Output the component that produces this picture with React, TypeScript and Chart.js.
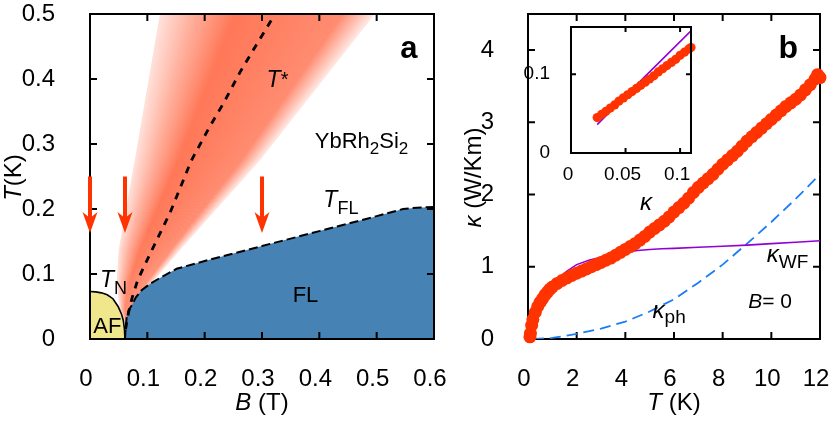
import React, { useEffect, useRef } from 'react';
import { Chart, registerables } from 'chart.js';
Chart.register(...registerables);

const SANS = '"Liberation Sans", Arial, Helvetica, sans-serif';
const font = (size: number, style = 'normal', weight = 'normal') => `${style} ${weight} ${size}px ${SANS}`;

// ---------------- Panel a : phase diagram ----------------
const bTicks = [0, 0.1, 0.2, 0.3, 0.4, 0.5, 0.6];
const bTickLabels = ['0', '0.1', '0.2', '0.3', '0.4', '0.5', '0.6'];
const tTicksA = [0, 0.1, 0.2, 0.3, 0.4, 0.5];
const tTickLabelsA = ['0', '0.1', '0.2', '0.3', '0.4', '0.5'];

// AF dome (T_N line)
const afB = [0, 0.01, 0.02, 0.03, 0.04, 0.049, 0.055, 0.058, 0.06, 0.061];
const afT = [0.073, 0.0725, 0.071, 0.068, 0.062, 0.05, 0.038, 0.029, 0.016, 0];
// FL boundary (T_FL line)
const flB = [0.061, 0.062, 0.064, 0.068, 0.073, 0.08, 0.09, 0.105, 0.122, 0.151, 0.2, 0.3, 0.4, 0.5, 0.546, 0.57, 0.6];
const flT = [0, 0.015, 0.034, 0.045, 0.052, 0.064, 0.075, 0.085, 0.094, 0.108, 0.12, 0.143, 0.166, 0.189, 0.2, 0.202, 0.203];
// T* line
const tStarB = [0.062, 0.067, 0.074, 0.083, 0.095, 0.113, 0.14, 0.177, 0.209, 0.233, 0.262, 0.285, 0.318];
const tStarT = [0.015, 0.04, 0.065, 0.09, 0.113, 0.146, 0.195, 0.275, 0.327, 0.363, 0.411, 0.445, 0.493];
// T* crossover width (fan edges)
const fanT = [0.02, 0.045, 0.086, 0.137, 0.275, 0.5];
const fanLeftB = [0.063, 0.052, 0.0465, 0.05, 0.078, 0.122];
const fanRightB = [0.066, 0.078, 0.108, 0.157, 0.2965, 0.497];
const fanProfileU = [0, 0.15, 0.35, 0.85, 1];
const fanProfileA = [0.22, 0.58, 1, 0.85, 0.15];
// measurement arrows
const arrowB = [0, 0.061, 0.3];
const arrowFromT = 0.25;
const arrowToT = 0.163;

// ---------------- Panel b : thermal conductivity ----------------
const kTicksX = [0, 2, 4, 6, 8, 10, 12];
const kTickLabelsX = ['0', '2', '4', '6', '8', '10', '12'];
const kTicksY = [0, 1, 2, 3, 4];
const kTickLabelsY = ['0', '1', '2', '3', '4'];

const kappaT = [0.08, 0.1, 0.15, 0.2, 0.3, 0.4, 0.5, 0.6, 0.7, 0.8, 0.9, 1.0,
  1.2, 1.4, 1.6, 1.8, 2.0, 2.2, 2.4, 2.6, 2.8, 3.0,
  3.2, 3.4, 3.6, 3.8, 4.0, 4.2, 4.4, 4.6, 4.8, 5.0,
  5.2, 5.4, 5.6, 5.8, 6.0, 6.2, 6.4, 6.6, 6.8, 7.0,
  7.2, 7.4, 7.6, 7.8, 8.0, 8.2, 8.4, 8.6, 8.8, 9.0,
  9.2, 9.4, 9.6, 9.8, 10.0, 10.2, 10.4, 10.6, 10.8, 11.0,
  11.2, 11.4, 11.6, 11.8, 11.9, 12.0];
const kappa = [0.03, 0.08, 0.19, 0.27, 0.37, 0.45, 0.51, 0.56, 0.61, 0.65, 0.69, 0.72,
  0.77, 0.81, 0.845, 0.88, 0.91, 0.94, 0.97, 1.0, 1.03, 1.06,
  1.09, 1.12, 1.16, 1.2, 1.24, 1.28, 1.32, 1.37, 1.42, 1.48,
  1.53, 1.58, 1.63, 1.69, 1.76, 1.82, 1.88, 1.95, 2.03, 2.1,
  2.16, 2.22, 2.28, 2.35, 2.42, 2.48, 2.54, 2.6, 2.67, 2.74,
  2.8, 2.86, 2.92, 2.98, 3.04, 3.1, 3.16, 3.22, 3.27, 3.32,
  3.38, 3.45, 3.52, 3.6, 3.66, 3.62];

const wfT = [0.1, 0.3, 0.5, 0.7, 1.0, 1.3, 1.6, 2.0, 2.5, 3.0, 3.5, 4.0, 4.5, 5.0, 5.5, 6.0, 7.0, 8.0, 9.0, 10.0, 11.0, 12.0];
const wf = [0.06, 0.37, 0.52, 0.63, 0.76, 0.85, 0.94, 1.03, 1.09, 1.13, 1.17, 1.2, 1.225, 1.24, 1.25, 1.255, 1.27, 1.285, 1.3, 1.32, 1.34, 1.36];

const phT = [0.2, 1, 2, 3, 4, 5, 6, 7, 8, 9, 10, 11, 12];
const ph = [0, 0.015, 0.07, 0.145, 0.24, 0.38, 0.55, 0.78, 1.03, 1.32, 1.62, 1.94, 2.28];

// inset
const insetTicksX = [0, 0.05, 0.1];
const insetTickLabelsX = ['0', '0.05', '0.1'];
const insetTicksY = [0, 0.1];
const insetTickLabelsY = ['0', '0.1'];
const insetT = [0.024, 0.028, 0.032, 0.036, 0.04, 0.044, 0.048, 0.052, 0.056, 0.06, 0.064, 0.068,
  0.072, 0.076, 0.08, 0.084, 0.088, 0.092, 0.096, 0.1, 0.104, 0.108, 0.11];
const insetKappa = [0.045, 0.049, 0.053, 0.057, 0.061, 0.066, 0.07, 0.074, 0.078, 0.082, 0.086, 0.09,
  0.094, 0.098, 0.103, 0.107, 0.111, 0.115, 0.119, 0.124, 0.128, 0.132, 0.134];
const insetWfT = [0.024, 0.067, 0.11];
const insetWf = [0.036, 0.096, 0.155];

// ---------------- helpers ----------------
type Run = { t: string; size: number; style?: string; weight?: string; dy?: number };
type Label = { x: number; y: number; runs: Run[] };

const pts = (xs: number[], ys: number[]) => xs.map((v, i) => ({ x: v, y: ys[i] }));

function interp(xs: number[], ys: number[], v: number) {
  if (v <= xs[0]) return ys[0];
  for (let i = 1; i < xs.length; i++) {
    if (v <= xs[i]) {
      const f = (v - xs[i - 1]) / (xs[i] - xs[i - 1]);
      return ys[i - 1] + f * (ys[i] - ys[i - 1]);
    }
  }
  return ys[ys.length - 1];
}

function drawRuns(ctx: CanvasRenderingContext2D, runs: Run[], x: number, y: number, align = 'left') {
  const ws = runs.map((r) => {
    ctx.font = font(r.size, r.style, r.weight);
    return ctx.measureText(r.t).width;
  });
  const total = ws.reduce((a, b) => a + b, 0);
  let cx = align === 'center' ? x - total / 2 : align === 'right' ? x - total : x;
  ctx.textAlign = 'left';
  ctx.textBaseline = 'alphabetic';
  ctx.fillStyle = '#000';
  runs.forEach((r, i) => {
    ctx.font = font(r.size, r.style, r.weight);
    ctx.fillText(r.t, cx, y + (r.dy || 0));
    cx += ws[i];
  });
}

function axis(o: { min: number; max: number; ticks: number[]; labels: string[]; size: number; padding: number; fit: number; horizontal: boolean; labelOffset?: number }) {
  return {
    type: 'linear',
    min: o.min,
    max: o.max,
    grid: { display: false },
    border: { display: false },
    afterBuildTicks: (s: any) => {
      s.ticks = o.ticks.map((v) => ({ value: v }));
    },
    ticks: {
      callback: (_v: any, i: number) => o.labels[i],
      font: { family: SANS, size: o.size, lineHeight: 1 },
      color: '#000',
      padding: o.padding,
      labelOffset: o.labelOffset || 0,
      maxRotation: 0,
      minRotation: 0,
      autoSkip: false,
    },
    afterFit: (s: any) => {
      if (o.horizontal) s.height = o.fit;
      else s.width = o.fit;
      s.paddingLeft = 0;
      s.paddingRight = 0;
      s.paddingTop = 0;
      s.paddingBottom = 0;
    },
  };
}

function framePlugin(lw: number, len: number, before: boolean) {
  const draw = (chart: any) => {
    const { ctx, chartArea: ca, scales } = chart;
    const { left, right, top, bottom } = ca;
    ctx.save();
    ctx.strokeStyle = '#000';
    ctx.lineWidth = lw;
    ctx.beginPath();
    scales.x.ticks.forEach((t: any) => {
      const px = scales.x.getPixelForValue(t.value);
      ctx.moveTo(px, bottom);
      ctx.lineTo(px, bottom - len);
      ctx.moveTo(px, top);
      ctx.lineTo(px, top + len);
    });
    scales.y.ticks.forEach((t: any) => {
      const py = scales.y.getPixelForValue(t.value);
      ctx.moveTo(left, py);
      ctx.lineTo(left + len, py);
      ctx.moveTo(right, py);
      ctx.lineTo(right - len, py);
    });
    ctx.stroke();
    ctx.strokeRect(left, top, right - left, bottom - top);
    ctx.restore();
  };
  return before ? { id: 'frame', beforeDatasetsDraw: draw } : { id: 'frame', afterDatasetsDraw: draw };
}

function labelsPlugin(labels: Label[], xTitle: Run[], yTitle: Run[], yTitleOffset: number) {
  return {
    id: 'labels',
    afterDraw(chart: any) {
      const { ctx, chartArea: ca, scales } = chart;
      ctx.save();
      labels.forEach((l) => drawRuns(ctx, l.runs, scales.x.getPixelForValue(l.x), scales.y.getPixelForValue(l.y)));
      drawRuns(ctx, xTitle, (ca.left + ca.right) / 2, ca.bottom + 71, 'center');
      ctx.translate(ca.left - yTitleOffset, (ca.top + ca.bottom) / 2 + 1);
      ctx.rotate(-Math.PI / 2);
      drawRuns(ctx, yTitle, 0, 0, 'center');
      ctx.restore();
    },
  };
}

const fanPlugin = {
  id: 'fan',
  beforeDatasetsDraw(chart: any) {
    const { ctx, chartArea: ca, scales } = chart;
    const { x, y } = scales;
    ctx.save();
    ctx.beginPath();
    ctx.rect(ca.left, ca.top, ca.right - ca.left, ca.bottom - ca.top);
    ctx.clip();
    const N = 90;
    const edge = (u: number) =>
      fanT.map((t, k) => [x.getPixelForValue(fanLeftB[k] + (fanRightB[k] - fanLeftB[k]) * u), y.getPixelForValue(t)]);
    for (let i = 0; i < N; i++) {
      const u0 = i / N;
      const u1 = Math.min(1, (i + 1.7) / N);
      const a = interp(fanProfileU, fanProfileA, (i + 0.5) / N);
      const c0 = edge(u0);
      const c1 = edge(u1);
      ctx.fillStyle = `rgb(255,${Math.round(255 - (255 - 120) * a)},${Math.round(255 - (255 - 88) * a)})`;
      ctx.beginPath();
      c0.forEach(([px, py], k) => (k ? ctx.lineTo(px, py) : ctx.moveTo(px, py)));
      for (let k = c1.length - 1; k >= 0; k--) ctx.lineTo(c1[k][0], c1[k][1]);
      ctx.closePath();
      ctx.fill();
    }
    ctx.restore();
  },
};

const arrowPlugin = {
  id: 'arrows',
  afterDatasetsDraw(chart: any) {
    const { ctx, scales } = chart;
    ctx.save();
    ctx.fillStyle = '#ff3300';
    ctx.strokeStyle = '#ff3300';
    ctx.lineWidth = 4;
    arrowB.forEach((b) => {
      const px = scales.x.getPixelForValue(b);
      const y0 = scales.y.getPixelForValue(arrowFromT);
      const y1 = scales.y.getPixelForValue(arrowToT);
      ctx.beginPath();
      ctx.moveTo(px, y0);
      ctx.lineTo(px, y1 - 12);
      ctx.stroke();
      ctx.beginPath();
      ctx.moveTo(px, y1);
      ctx.lineTo(px - 7.5, y1 - 21);
      ctx.lineTo(px, y1 - 15);
      ctx.lineTo(px + 7.5, y1 - 21);
      ctx.closePath();
      ctx.fill();
    });
    ctx.restore();
  },
};

const labelsA: Label[] = [
  { x: 0.541, y: 0.432, runs: [{ t: 'a', size: 31, weight: 'bold' }] },
  { x: 0.308, y: 0.388, runs: [{ t: 'T', size: 23, style: 'italic' }, { t: '*', size: 20, dy: -1 }] },
  { x: 0.392, y: 0.2934, runs: [{ t: 'YbRh', size: 22 }, { t: '2', size: 17, dy: 6 }, { t: 'Si', size: 22 }, { t: '2', size: 17, dy: 6 }] },
  { x: 0.407, y: 0.2035, runs: [{ t: 'T', size: 23, style: 'italic' }, { t: 'FL', size: 18, dy: 7 }] },
  { x: 0.0174, y: 0.0795, runs: [{ t: 'T', size: 23, style: 'italic' }, { t: 'N', size: 18, dy: 7 }] },
  { x: 0.3535, y: 0.0574, runs: [{ t: 'FL', size: 22 }] },
  { x: 0.0058, y: 0.0088, runs: [{ t: 'AF', size: 22 }] },
];

const labelsB: Label[] = [
  { x: 10.29, y: 3.885, runs: [{ t: 'b', size: 32, weight: 'bold' }] },
  { x: 4.6, y: 1.785, runs: [{ t: 'κ', size: 24, style: 'italic' }] },
  { x: 9.81, y: 1.06, runs: [{ t: 'κ', size: 24, style: 'italic' }, { t: 'WF', size: 19, dy: 6 }] },
  { x: 9.05, y: 0.424, runs: [{ t: 'B', size: 21, style: 'italic' }, { t: '= 0', size: 21 }] },
  { x: 5.12, y: 0.286, runs: [{ t: 'κ', size: 24, style: 'italic' }, { t: 'ph', size: 19, dy: 5 }] },
];

const baseOptions = {
  responsive: false,
  animation: false,
  events: [] as any[],
  plugins: { legend: { display: false }, tooltip: { enabled: false }, title: { display: false } },
};

function makeA(canvas: HTMLCanvasElement) {
  return new Chart(canvas, {
    type: 'line',
    data: {
      datasets: [
        { data: pts(tStarB, tStarT), borderColor: '#000', borderWidth: 2.8, borderDash: [7, 7], fill: false, pointRadius: 0, order: 0 },
        { data: pts(flB, flT), borderColor: '#000', borderWidth: 2, borderDash: [9, 4], backgroundColor: '#4682b4', fill: 'origin', pointRadius: 0, order: 1 },
        { data: pts(afB, afT), borderColor: '#000', borderWidth: 1.6, backgroundColor: '#f0e68c', fill: 'origin', pointRadius: 0, order: 2 },
      ],
    },
    options: {
      ...baseOptions,
      layout: { padding: { left: 0, top: 14, right: 396, bottom: 0 } },
      scales: {
        x: axis({ min: 0, max: 0.6, ticks: bTicks, labels: bTickLabels, size: 24, padding: 20, fit: 83, horizontal: true, labelOffset: -4 }),
        y: axis({ min: 0, max: 0.5, ticks: tTicksA, labels: tTickLabelsA, size: 24, padding: 27, fit: 90, horizontal: false }),
      },
    } as any,
    plugins: [
      fanPlugin,
      framePlugin(2, 7, false),
      arrowPlugin,
      labelsPlugin(
        labelsA,
        [{ t: 'B', size: 24, style: 'italic' }, { t: ' (T)', size: 24 }],
        [{ t: 'T', size: 24, style: 'italic' }, { t: '(K)', size: 24 }],
        69
      ),
    ],
  });
}

function makeB(canvas: HTMLCanvasElement) {
  return new Chart(canvas, {
    type: 'line',
    data: {
      datasets: [
        { data: pts(kappaT, kappa), showLine: false, pointRadius: 6.5, pointBackgroundColor: '#ff3300', pointBorderColor: '#ff3300', pointBorderWidth: 0, borderWidth: 0, clip: false, order: 0 },
        { data: pts(wfT, wf), borderColor: '#9400d3', borderWidth: 1.6, pointRadius: 0, fill: false, order: 1 },
        { data: pts(phT, ph), borderColor: '#1c7cf4', borderWidth: 1.8, borderDash: [11, 6], pointRadius: 0, fill: false, order: 2 },
      ],
    },
    options: {
      ...baseOptions,
      layout: { padding: { left: 438, top: 14, right: 10, bottom: 0 } },
      scales: {
        x: axis({ min: 0, max: 12, ticks: kTicksX, labels: kTickLabelsX, size: 24, padding: 20, fit: 83, horizontal: true, labelOffset: -4 }),
        y: axis({ min: 0, max: 4.5, ticks: kTicksY, labels: kTickLabelsY, size: 24, padding: 26, fit: 90, horizontal: false }),
      },
    } as any,
    plugins: [
      framePlugin(2, 7, true),
      labelsPlugin(
        labelsB,
        [{ t: 'T', size: 24, style: 'italic' }, { t: ' (K)', size: 24 }],
        [{ t: 'κ', size: 24, style: 'italic' }, { t: ' (W/Km)', size: 24 }],
        47
      ),
    ],
  });
}

function makeInset(canvas: HTMLCanvasElement) {
  return new Chart(canvas, {
    type: 'line',
    data: {
      datasets: [
        { data: pts(insetT, insetKappa), showLine: false, pointRadius: 4.6, pointBackgroundColor: '#ff3300', pointBorderColor: '#ff3300', pointBorderWidth: 0, borderWidth: 0, clip: false, order: 0 },
        { data: pts(insetWfT, insetWf), borderColor: '#9400d3', borderWidth: 1.6, pointRadius: 0, fill: false, order: 1 },
      ],
    },
    options: {
      ...baseOptions,
      layout: { padding: { left: 511, top: 27, right: 139, bottom: 0 } },
      scales: {
        x: axis({ min: 0, max: 0.11, ticks: insetTicksX, labels: insetTickLabelsX, size: 19, padding: 4.5, fit: 269, horizontal: true, labelOffset: -3 }),
        y: axis({ min: 0, max: 0.16, ticks: insetTicksY, labels: insetTickLabelsY, size: 19, padding: 13, fit: 60, horizontal: false }),
      },
    } as any,
    plugins: [framePlugin(2, 5, false)],
  });
}

export default function App() {
  const refA = useRef<HTMLCanvasElement>(null);
  const refB = useRef<HTMLCanvasElement>(null);
  const refC = useRef<HTMLCanvasElement>(null);
  useEffect(() => {
    const charts = [makeA(refA.current!), makeB(refB.current!), makeInset(refC.current!)];
    return () => charts.forEach((c) => c.destroy());
  }, []);
  const st: React.CSSProperties = { position: 'absolute', left: 0, top: 0 };
  return (
    <div style={{ position: 'absolute', left: 0, top: 0, width: 830, height: 422, background: '#fff', overflow: 'hidden' }}>
      <canvas ref={refA} width={830} height={422} style={st} />
      <canvas ref={refB} width={830} height={422} style={st} />
      <canvas ref={refC} width={830} height={422} style={st} />
    </div>
  );
}
